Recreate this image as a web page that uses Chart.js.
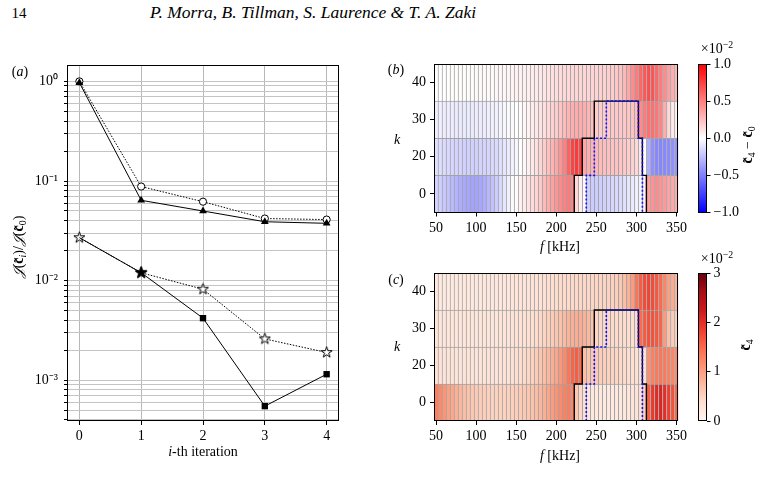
<!DOCTYPE html>
<html lang="en">
<head>
<meta charset="UTF-8">
<title>Cost reduction and control maps</title>
<style>
  body {
    margin: 0;
    width: 769px;
    height: 486px;
    position: relative;
    overflow: hidden;
    background: #fff;
    color: #000;
    font-family: "Liberation Serif", serif;
  }
  canvas { position: absolute; }
  .t {
    position: absolute;
    white-space: nowrap;
    font-size: 14px;
    line-height: 1;
    transform: translate(-50%, -50%);
  }
  .rot { transform: translate(-50%, -50%) rotate(-90deg); }
  sub { font-size: 70%; vertical-align: -0.25em; }
</style>
</head>
<body>

<div class="t" style="left:19px; top:13px; font-size:15px;">14</div>
<div class="t" style="left:313px; top:13px; font-size:17.5px;"><i>P. Morra, B. Tillman, S. Laurence &amp; T. A. Zaki</i></div>

<canvas id="convChart" width="360" height="486" style="left:0; top:0;"></canvas>
<canvas id="diffMap" width="320" height="240" style="left:370px; top:30px;"></canvas>
<canvas id="diffBar" width="70" height="240" style="left:690px; top:30px;"></canvas>
<canvas id="ctrlMap" width="320" height="240" style="left:370px; top:240px;"></canvas>
<canvas id="ctrlBar" width="70" height="240" style="left:690px; top:240px;"></canvas>

<div class="t" style="left:20px; top:72px;">(<i>a</i>)</div>
<div class="t rot" style="left:20px; top:247px;"><i>𝒥</i>(<b>c̃</b><sub><i>i</i></sub>)/<i>𝒥</i>(<b>c̃</b><sub>0</sub>)</div>
<div class="t" style="left:203px; top:452px;"><i>i</i>-th iteration</div>

<div class="t" style="left:396px; top:70px;">(<i>b</i>)</div>
<div class="t" style="left:397px; top:140px;"><i>k</i></div>
<div class="t" style="left:560px; top:247px;"><i>f</i> [kHz]</div>
<div class="t" style="left:717px; top:48px;">×10<sup style="font-size:70%">−2</sup></div>
<div class="t rot" style="left:749px; top:145px;"><b>c̃</b><sub>4</sub> − <b>c̃</b><sub>0</sub></div>

<div class="t" style="left:396px; top:280px;">(<i>c</i>)</div>
<div class="t" style="left:397px; top:347px;"><i>k</i></div>
<div class="t" style="left:560px; top:456px;"><i>f</i> [kHz]</div>
<div class="t" style="left:717px; top:258px;">×10<sup style="font-size:70%">−2</sup></div>
<div class="t rot" style="left:747px; top:345px;"><b>c̃</b><sub>4</sub></div>

<script src="https://cdn.jsdelivr.net/npm/chart.js"></script>
<script>
  // ---- panel (a): normalised cost per iteration
  const iters = [0, 1, 2, 3, 4];
  const costCircle = [1.0, 0.088, 0.062, 0.042, 0.041];
  const costTriangle = [0.97, 0.064, 0.050, 0.039, 0.0376];
  const costStar = [0.027, 0.012, 0.0082, 0.0026, 0.0019];
  const costSquare = [0.027, 0.012, 0.0042, 0.00055, 0.00115];

  // ---- panels (b), (c): frequency bins and wavenumber rows
  const freqs = [50, 55, 60, 65, 70, 75, 80, 85, 90, 95, 100, 105, 110, 115, 120, 125, 130, 135, 140, 145,
    150, 155, 160, 165, 170, 175, 180, 185, 190, 195, 200, 205, 210, 215, 220, 225, 230, 235, 240, 245,
    250, 255, 260, 265, 270, 275, 280, 285, 290, 295, 300, 305, 310, 315, 320, 325, 330, 335, 340, 345, 350];
  const kLabels = ['0', '20', '30', '40'];
  const fTicks = [50, 100, 150, 200, 250, 300, 350];

  // c4 - c0 (x1e-2), one list per k row
  const diffK0 = [-0.17, -0.19, -0.21, -0.24, -0.27, -0.30, -0.32, -0.34, -0.35, -0.36,
    -0.36, -0.35, -0.32, -0.28, -0.24, -0.20, -0.15, -0.10, -0.06, -0.02,
    0.01, 0.05, 0.08, 0.11, 0.14, 0.17, 0.21, 0.27, 0.32, 0.37,
    0.42, 0.46, 0.50, 0.52, 0.48, 0.15, 0.06, 0.02, -0.18, -0.20,
    -0.20, -0.19, -0.18, -0.17, -0.16, -0.15, -0.14, -0.12, -0.10, -0.08,
    -0.06, -0.03, 0.05, 0.38, 0.43, 0.45, 0.43, 0.40, 0.37, 0.34, 0.32];
  const diffK20 = [-0.12, -0.13, -0.14, -0.15, -0.16, -0.17, -0.17, -0.18, -0.18, -0.18,
    -0.18, -0.17, -0.17, -0.16, -0.15, -0.14, -0.12, -0.10, -0.08, -0.05,
    -0.03, 0.00, 0.03, 0.06, 0.09, 0.12, 0.16, 0.20, 0.25, 0.30,
    0.35, 0.42, 0.50, 0.62, 0.74, 0.78, 0.72, 0.35, 0.32, 0.30,
    0.28, 0.27, 0.26, 0.25, 0.24, 0.24, 0.23, 0.22, 0.20, 0.18,
    0.15, 0.08, 0.00, -0.32, -0.44, -0.47, -0.48, -0.47, -0.46, -0.44, -0.42];
  const diffK30 = [-0.06, -0.06, -0.07, -0.07, -0.07, -0.08, -0.08, -0.08, -0.08, -0.08,
    -0.07, -0.07, -0.07, -0.06, -0.06, -0.05, -0.04, -0.03, -0.02, -0.01,
    0.00, 0.01, 0.03, 0.05, 0.07, 0.09, 0.11, 0.13, 0.15, 0.18,
    0.20, 0.23, 0.27, 0.30, 0.32, 0.33, 0.33, 0.32, 0.30, 0.26,
    0.20, 0.20, 0.20, 0.20, 0.21, 0.21, 0.22, 0.22, 0.23, 0.24,
    0.25, 0.45, 0.52, 0.56, 0.57, 0.54, 0.48, 0.32, 0.15, 0.08, 0.04];
  const diffK40 = [0.00, 0.00, 0.00, 0.00, 0.01, 0.01, 0.01, 0.01, 0.01, 0.01,
    0.02, 0.02, 0.02, 0.02, 0.02, 0.03, 0.03, 0.03, 0.04, 0.04,
    0.05, 0.05, 0.06, 0.06, 0.07, 0.08, 0.09, 0.10, 0.11, 0.12,
    0.13, 0.14, 0.15, 0.15, 0.16, 0.16, 0.16, 0.16, 0.17, 0.17,
    0.17, 0.18, 0.18, 0.19, 0.20, 0.22, 0.24, 0.28, 0.35, 0.45,
    0.52, 0.60, 0.66, 0.70, 0.67, 0.60, 0.52, 0.45, 0.38, 0.32, 0.27];

  // c4 (x1e-2), one list per k row
  const ctrlK0 = [1.30, 1.20, 1.10, 1.00, 0.92, 0.85, 0.78, 0.72, 0.67, 0.63,
    0.60, 0.57, 0.55, 0.53, 0.52, 0.51, 0.51, 0.52, 0.53, 0.54,
    0.56, 0.58, 0.61, 0.64, 0.68, 0.73, 0.79, 0.86, 0.95, 1.03,
    1.12, 1.20, 1.28, 1.32, 1.25, 0.62, 0.46, 0.38, 0.26, 0.24,
    0.22, 0.21, 0.20, 0.20, 0.20, 0.21, 0.22, 0.24, 0.26, 0.29,
    0.32, 0.36, 0.55, 1.60, 1.90, 2.05, 2.10, 2.00, 1.85, 1.70, 1.55];
  const ctrlK20 = [0.32, 0.31, 0.30, 0.30, 0.30, 0.29, 0.29, 0.29, 0.29, 0.29,
    0.29, 0.29, 0.29, 0.30, 0.30, 0.30, 0.31, 0.32, 0.33, 0.35,
    0.37, 0.40, 0.43, 0.47, 0.52, 0.58, 0.65, 0.72, 0.79, 0.87,
    0.95, 1.08, 1.20, 1.38, 1.55, 1.60, 1.50, 0.72, 0.66, 0.63,
    0.60, 0.57, 0.55, 0.53, 0.50, 0.48, 0.45, 0.43, 0.40, 0.38,
    0.36, 0.34, 0.35, 1.15, 1.30, 1.35, 1.38, 1.35, 1.30, 1.25, 1.20];
  const ctrlK30 = [0.26, 0.26, 0.26, 0.26, 0.26, 0.26, 0.26, 0.26, 0.26, 0.26,
    0.26, 0.26, 0.26, 0.26, 0.27, 0.27, 0.28, 0.28, 0.29, 0.30,
    0.31, 0.32, 0.34, 0.36, 0.38, 0.41, 0.45, 0.49, 0.54, 0.59,
    0.64, 0.69, 0.75, 0.81, 0.86, 0.88, 0.88, 0.84, 0.78, 0.68,
    0.47, 0.46, 0.45, 0.44, 0.44, 0.43, 0.42, 0.41, 0.40, 0.40,
    0.40, 1.50, 1.62, 1.70, 1.70, 1.65, 1.55, 1.05, 0.70, 0.58, 0.52];
  const ctrlK40 = [0.20, 0.20, 0.20, 0.20, 0.20, 0.21, 0.21, 0.21, 0.21, 0.21,
    0.22, 0.22, 0.22, 0.23, 0.23, 0.24, 0.24, 0.25, 0.25, 0.26,
    0.27, 0.28, 0.29, 0.30, 0.31, 0.32, 0.33, 0.35, 0.37, 0.39,
    0.41, 0.42, 0.43, 0.44, 0.45, 0.45, 0.46, 0.46, 0.47, 0.47,
    0.48, 0.49, 0.50, 0.51, 0.53, 0.56, 0.62, 0.72, 0.85, 1.05,
    1.40, 1.60, 1.75, 1.80, 1.75, 1.65, 1.50, 1.25, 1.02, 0.90, 0.80];

  // region outlines (frequency edge, row edge in row units)
  const outerF = [222.5, 222.5, 232.5, 232.5, 247.5, 247.5, 302.5, 302.5, 307.5, 307.5, 312.5, 312.5];
  const outerK = [-0.5, 0.5, 0.5, 1.5, 1.5, 2.5, 2.5, 1.5, 1.5, 0.5, 0.5, -0.5];
  const innerF = [237.5, 237.5, 247.5, 247.5, 262.5, 262.5, 302.5, 302.5, 307.5, 307.5];
  const innerK = [-0.5, 0.5, 0.5, 1.5, 1.5, 2.5, 2.5, 1.5, 1.5, -0.5];

  Chart.defaults.font.family = '"Liberation Serif", serif';
  Chart.defaults.font.size = 14;
  Chart.defaults.color = '#000';
  Chart.defaults.animation = false;
  Chart.defaults.responsive = false;
  Chart.defaults.plugins.legend.display = false;
  Chart.defaults.plugins.tooltip.enabled = false;

  // colormaps
  function bwr(v) {
    const t = Math.max(0, Math.min(1, (v + 1) / 2));
    let r, g, b;
    if (t < 0.5) { r = g = Math.round(510 * t); b = 255; }
    else { r = 255; g = b = Math.round(510 * (1 - t)); }
    return `rgb(${r},${g},${b})`;
  }
  const redsStops = [[255,245,240],[254,224,210],[252,187,161],[252,146,114],[251,106,74],
                     [239,59,44],[203,24,29],[165,15,21],[103,0,13]];
  function reds(v) {
    const t = Math.max(0, Math.min(1, v / 3)) * 8;
    const i = Math.min(7, Math.floor(t)), f = t - i;
    const a = redsStops[i], b = redsStops[i + 1];
    return `rgb(${a.map((c, j) => Math.round(c + (b[j] - c) * f)).join(',')})`;
  }

  // black box around the plot area
  const framePlugin = {
    id: 'frame',
    afterDraw(chart) {
      const a = chart.chartArea, c = chart.ctx;
      c.save();
      c.strokeStyle = '#000';
      c.lineWidth = 1;
      c.strokeRect(Math.round(a.left) + 0.5, Math.round(a.top) + 0.5,
        Math.round(a.right - a.left) - 1, Math.round(a.bottom - a.top) - 1);
      c.restore();
    }
  };

  function starMarker(outer, fill) {
    const cv = document.createElement('canvas');
    const s = Math.ceil(outer * 2 + 3);
    cv.width = s; cv.height = s;
    const c = cv.getContext('2d');
    c.beginPath();
    for (let i = 0; i < 10; i++) {
      const r = i % 2 ? outer * 0.382 : outer;
      const ang = -Math.PI / 2 + i * Math.PI / 5;
      c.lineTo(s / 2 + r * Math.cos(ang), s / 2 + r * Math.sin(ang));
    }
    c.closePath();
    c.fillStyle = fill;
    c.fill();
    c.lineWidth = 1;
    c.strokeStyle = '#000';
    c.stroke();
    return cv;
  }
  const openStar = starMarker(5.8, '#fff');
  const fullStar = starMarker(6.2, '#000');

  const sup = { '0': '⁰', '1': '¹', '2': '²', '3': '³', '4': '⁴', '-': '⁻' };
  function powLabel(v) {
    const e = Math.log10(v);
    if (Math.abs(e - Math.round(e)) > 1e-6) return '';
    return '10' + String(Math.round(e)).split('').map(ch => sup[ch]).join('');
  }

  function pts(xs, ys) { return xs.map((x, i) => ({ x: x, y: ys[i] })); }

  // ---- panel (a)
  new Chart(document.getElementById('convChart'), {
    type: 'line',
    data: {
      datasets: [
        { data: pts(iters, costSquare), order: 0, borderColor: '#000', borderWidth: 1,
          pointStyle: ['rect', fullStar, 'rect', 'rect', 'rect'], pointRadius: [0, 5, 4.5, 4.5, 4.5],
          pointBackgroundColor: '#000', pointBorderColor: '#000', pointBorderWidth: 0 },
        { data: pts(iters, costStar), order: 1, borderColor: '#000', borderWidth: 1, borderDash: [1.5, 1.5],
          pointStyle: openStar, pointRadius: 5 },
        { data: pts(iters, costTriangle), order: 2, borderColor: '#000', borderWidth: 1,
          pointStyle: 'triangle', pointRadius: 4.5, pointBackgroundColor: '#000', pointBorderColor: '#000', pointBorderWidth: 0 },
        { data: pts(iters, costCircle), order: 3, borderColor: '#000', borderWidth: 1, borderDash: [1.5, 1.5],
          pointStyle: 'circle', pointRadius: 3.6, pointBackgroundColor: '#fff', pointBorderColor: '#000', pointBorderWidth: 1 }
      ]
    },
    options: {
      layout: { padding: { left: 27, top: 65, right: 21, bottom: 43 } },
      scales: {
        x: {
          type: 'linear', min: -0.2, max: 4.2,
          afterBuildTicks: s => { s.ticks = iters.map(v => ({ value: v })); },
          afterFit: s => { s.height = 22; },
          ticks: { padding: 3 },
          grid: { color: '#b8b8b8', lineWidth: 1, tickColor: '#000', tickLength: 4 },
          border: { display: false }
        },
        y: {
          type: 'logarithmic', min: 3.9e-4, max: 1.46,
          afterBuildTicks: s => {
            const t = [];
            for (let e = -4; e <= 0; e++) {
              for (let m = 1; m <= 9; m++) {
                const v = m * Math.pow(10, e);
                if (v >= s.min && v <= s.max) t.push({ value: v, major: m === 1 });
              }
            }
            s.ticks = t;
          },
          afterFit: s => { s.width = 40; },
          ticks: { autoSkip: false, padding: 6, callback: v => powLabel(v) },
          grid: { color: '#c4c4c4', lineWidth: 1, tickColor: '#000', tickLength: 3 },
          border: { display: false }
        }
      }
    },
    plugins: [framePlugin]
  });

  // ---- panels (b), (c): heat maps of cells
  function heatMap(id, rows, cmap, pad) {
    const cells = rows.map((vals, r) => ({
      type: 'bar',
      order: 10,
      data: freqs.map(f => ({ x: f, y: [r - 0.5, r + 0.5] })),
      backgroundColor: vals.map(cmap),
      borderColor: '#a3a3a3',
      borderWidth: { left: 1, top: 1, right: 0, bottom: 0 },
      borderSkipped: false,
      barPercentage: 1,
      categoryPercentage: 1,
      grouped: false
    }));
    cells.push({ type: 'line', order: 1, data: pts(outerF, outerK), borderColor: '#000',
      borderWidth: 1.4, pointRadius: 0, tension: 0 });
    cells.push({ type: 'line', order: 0, data: pts(innerF, innerK), borderColor: '#1010ff',
      borderWidth: 1.6, borderDash: [2, 2], pointRadius: 0, tension: 0 });

    new Chart(document.getElementById(id), {
      type: 'bar',
      data: { datasets: cells },
      options: {
        layout: { padding: pad },
        scales: {
          x: {
            type: 'linear', min: 47.5, max: 352.5, offset: false,
            afterBuildTicks: s => { s.ticks = fTicks.map(v => ({ value: v })); },
            afterFit: s => { s.height = 22; },
            ticks: { padding: 3 },
            grid: { offset: false, drawOnChartArea: false, tickColor: '#000', tickLength: 4 },
            border: { display: false }
          },
          y: {
            type: 'linear', min: -0.5, max: 3.5,
            afterBuildTicks: s => { s.ticks = kLabels.map((_, i) => ({ value: i })); },
            afterFit: s => { s.width = 32; },
            ticks: { padding: 4, callback: v => kLabels[v] },
            grid: { drawOnChartArea: false, tickColor: '#000', tickLength: 4 },
            border: { display: false }
          }
        }
      },
      plugins: [framePlugin]
    });
  }

  function colorBar(id, min, max, ticks, fmt, cmap, pad) {
    new Chart(document.getElementById(id), {
      type: 'bar',
      data: {
        labels: [''],
        datasets: [{
          data: [[min, max]],
          barPercentage: 1,
          categoryPercentage: 1,
          borderWidth: 0,
          backgroundColor: c => {
            const a = c.chart.chartArea;
            if (!a) return '#fff';
            const g = c.chart.ctx.createLinearGradient(0, a.bottom, 0, a.top);
            for (let i = 0; i <= 32; i++) g.addColorStop(i / 32, cmap(min + (max - min) * i / 32));
            return g;
          }
        }]
      },
      options: {
        layout: { padding: pad },
        scales: {
          x: { display: false },
          y: {
            position: 'right', min: min, max: max,
            afterBuildTicks: s => { s.ticks = ticks.map(v => ({ value: v })); },
            afterFit: s => { s.width = 34; },
            ticks: { padding: 3, callback: fmt },
            grid: { drawOnChartArea: false, tickColor: '#000', tickLength: 4 },
            border: { display: false }
          }
        }
      },
      plugins: [framePlugin]
    });
  }

  const signed = v => (v < 0 ? '−' : '') + Math.abs(v).toFixed(1);

  heatMap('diffMap', [diffK0, diffK20, diffK30, diffK40], bwr, { left: 32, top: 34, right: 6, bottom: 35.5 });
  colorBar('diffBar', -1, 1, [-1, -0.5, 0, 0.5, 1], signed, bwr, { left: 8, top: 34, right: 19.5, bottom: 57.5 });
  heatMap('ctrlMap', [ctrlK0, ctrlK20, ctrlK30, ctrlK40], reds, { left: 32, top: 33, right: 6, bottom: 37 });
  colorBar('ctrlBar', 0, 3, [0, 1, 2, 3], v => String(v), reds, { left: 8, top: 33, right: 19.5, bottom: 59 });
</script>
</body>
</html>
